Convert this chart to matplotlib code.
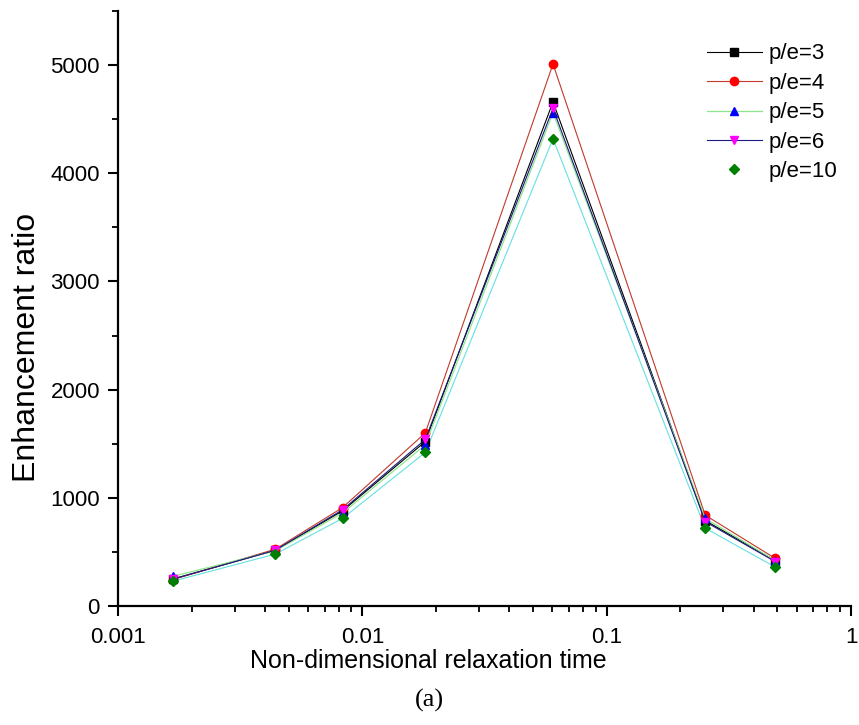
import numpy as np
import matplotlib
matplotlib.use("Agg")
import matplotlib.pyplot as plt
from matplotlib.ticker import MultipleLocator, FixedLocator, NullFormatter

plt.rcParams['font.family'] = ['Liberation Sans', 'DejaVu Sans']

# --- data ---
tau = [0.00168, 0.0044, 0.0083, 0.0181, 0.0603, 0.253, 0.49]
pe3 = [250, 515, 880, 1520, 4660, 790, 420]
pe4 = [245, 525, 910, 1600, 5010, 840, 440]
pe5 = [275, 510, 860, 1490, 4560, 810, 420]
pe6 = [250, 515, 890, 1540, 4600, 780, 410]
pe10 = [230, 480, 810, 1420, 4320, 720, 360]

fig = plt.figure(figsize=(8.59, 7.25), dpi=100)
ax = fig.add_axes([0.1374, 0.1641, 0.8533, 0.8207])

ax.plot(tau, pe3, color='black', lw=0.8, marker='s', ms=6, mfc='black', mec='black', label='p/e=3')
ax.plot(tau, pe4, color='#c0392b', lw=0.8, marker='o', ms=6, mfc='red', mec='red', label='p/e=4')
ax.plot(tau, pe5, color='#8ee68e', lw=0.9, marker='^', ms=6, mfc='blue', mec='blue', label='p/e=5')
ax.plot(tau, pe6, color='#1a1a80', lw=0.8, marker='v', ms=6, mfc='magenta', mec='magenta', label='p/e=6')
# p/e=10: cyan line, legend shows marker only
ax.plot(tau, pe10, color='#66e0e0', lw=0.8, zorder=1)
ax.plot(tau, pe10, ls='none', marker='D', ms=5, mfc='green', mec='green', label='p/e=10')

ax.set_xscale('log')
ax.set_xlim(0.001, 1)
ax.set_ylim(0, 5500)
ax.xaxis.set_major_locator(FixedLocator([0.001, 0.01, 0.1, 1]))
ax.set_xticklabels(['0.001', '0.01', '0.1', '1'])
ax.xaxis.set_minor_locator(FixedLocator([k * 10.0**e for e in (-3, -2, -1) for k in range(2, 10)]))
ax.xaxis.set_minor_formatter(NullFormatter())
ax.yaxis.set_major_locator(FixedLocator([0, 1000, 2000, 3000, 4000, 5000]))
ax.yaxis.set_minor_locator(MultipleLocator(500))

for s in ['top', 'right']:
    ax.spines[s].set_visible(False)
for s in ['left', 'bottom']:
    ax.spines[s].set_linewidth(1.6)
ax.tick_params(which='major', direction='out', length=7, width=1.5, labelsize=16)
ax.tick_params(axis='x', which='major', pad=8)
ax.tick_params(axis='y', which='major', pad=6)
ax.tick_params(which='minor', direction='out', length=4, width=1.3)

ax.set_xlabel('Non-dimensional relaxation time', fontsize=18, labelpad=1)
ax.set_ylabel('Enhancement ratio', fontsize=23, labelpad=6)
ax.xaxis.label.set_x(0.424)
ax.yaxis.label.set_y(0.434)

ax.legend(loc='upper right', bbox_to_anchor=(1.0, 0.968), frameon=False, fontsize=16,
          handlelength=2.5, handletextpad=0.3, labelspacing=0.38, borderaxespad=0.2)

fig.text(0.5, 0.034, '(a)', ha='center', va='center', fontsize=19, family='Liberation Serif')

fig.savefig('out.png', dpi=100)
